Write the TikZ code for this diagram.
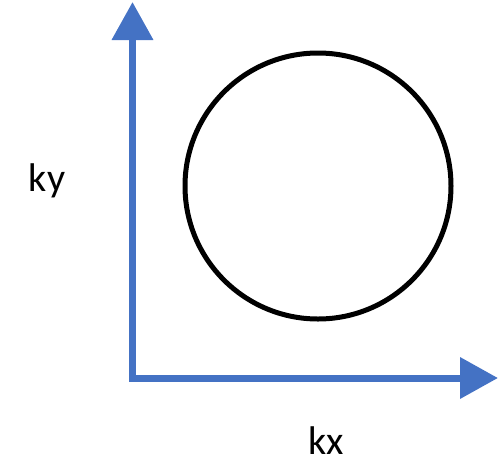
\documentclass[tikz,border=0pt]{standalone}
\usepackage{fontspec}
\setmainfont{Carlito}
\usetikzlibrary{arrows.meta}

\definecolor{axisblue}{HTML}{4472C4}
\tikzset{
  axis/.style={axisblue,line width=7pt,-{Triangle[length=38pt,width=40pt]}},
  lbl/.style={font=\fontsize{40}{40}\selectfont,inner sep=0pt}
}

\begin{document}
\begin{tikzpicture}[x=1pt,y=-1pt]
        \useasboundingbox (0,0) rectangle (498,464);
        \coordinate (O) at (132.5,378);
        \coordinate (ytop) at (132.5,2);
        \coordinate (xend) at (498,378);
        \draw[axis] ([yshift=-3.5pt]O) -- (ytop);
        \draw[axis] (O) -- (xend);
        \node[draw,circle,line width=5pt,minimum size=266pt,inner sep=0pt] (ring) at (318,186) {};
        \node[lbl] (ky) at (47,181) {ky};
        \node[lbl] (kx) at (326,441) {kx};
    \end{tikzpicture}
\end{document}
